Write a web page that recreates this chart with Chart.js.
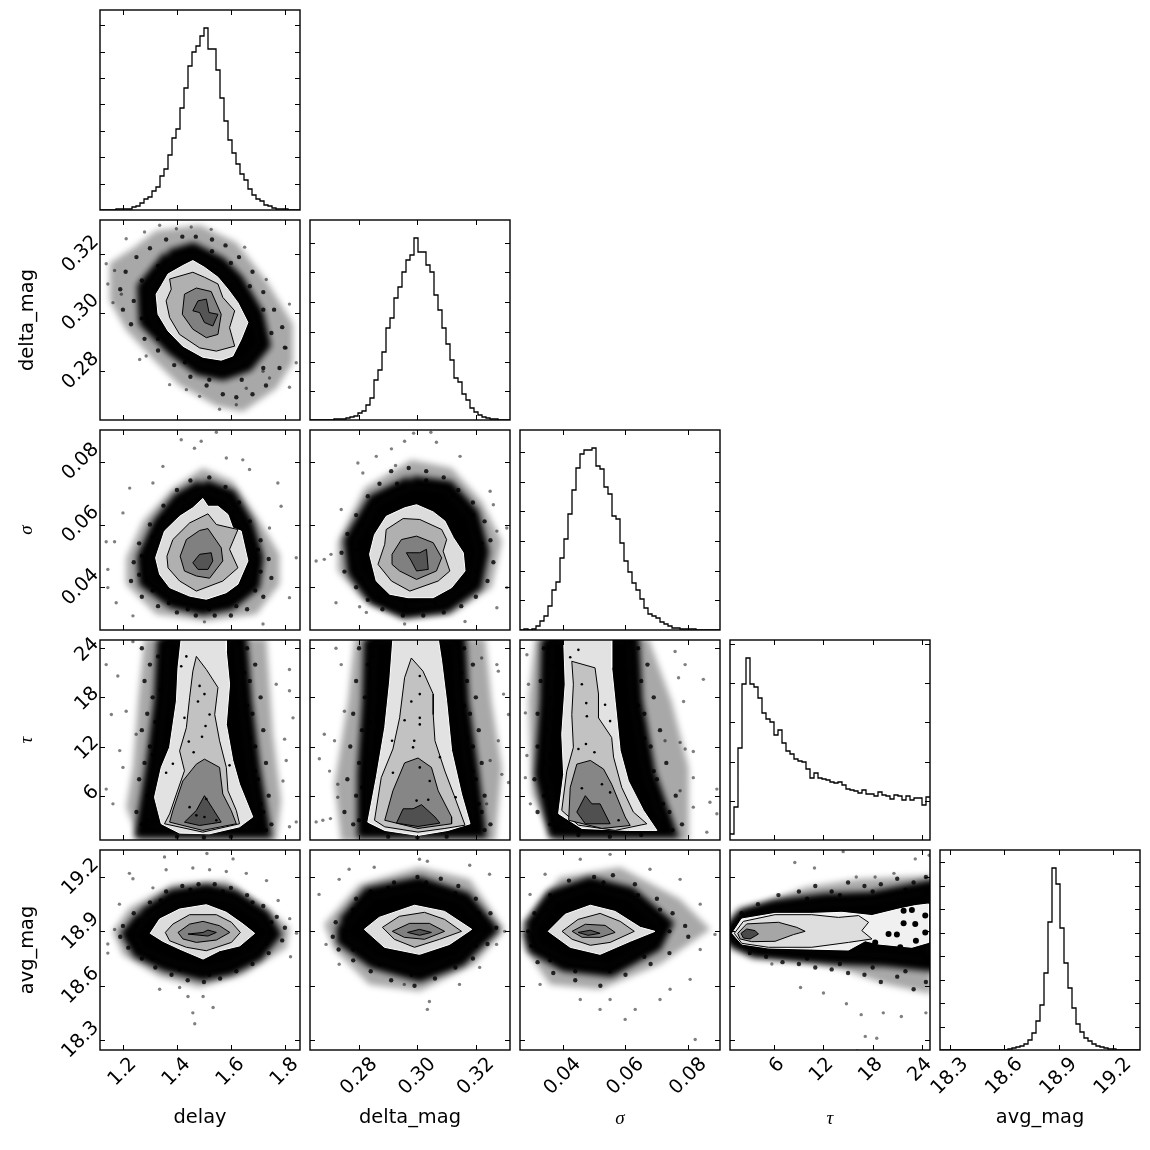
<!DOCTYPE html>
<html>
<head>
<meta charset="utf-8">
<script src="https://cdn.jsdelivr.net/npm/chart.js@4/dist/chart.umd.min.js"></script>
<style>
  html, body { margin: 0; background: #fff; }
  #page { position: relative; width: 1150px; height: 1150px; overflow: hidden; }
  canvas { position: absolute; }
</style>
</head>
<body>
<div id="page"></div>
<script>
// axis ranges and tick values
const delayRange = [1.115, 1.856], delayTicks = [1.2, 1.4, 1.6, 1.8];
const dmagRange = [0.2632, 0.3317], dmagTicks = [0.28, 0.30, 0.32];
const sigmaRange = [0.0264, 0.0901], sigmaTicks = [0.04, 0.06, 0.08];
const tauRange = [0.59, 25.0], tauTicks = [6, 12, 18, 24];
const magRange = [18.245, 19.349], magTicks = [18.3, 18.6, 18.9, 19.2];

// histograms, 50 bins each, heights relative to a 0-200 frame
const delayHist = [0,0,0,0,1,1,1,1,3,4,7,11,13,19,23,34,41,55,72,81,102,122,144,158,164,174,182,161,161,140,112,89,70,57,46,36,30,21,15,11,9,5,4,2,1,1,1,0,0,0];
const dmagHist = [0,0,0,0,0,0,1,1,1,2,3,4,7,9,15,22,40,50,68,92,102,122,133,148,160,165,182,168,168,155,148,125,110,92,76,60,42,38,26,20,12,8,5,3,2,1,1,0,0,0];
const sigmaHist = [0,1,0,1,4,9,14,24,40,48,72,91,116,140,162,176,180,180,182,164,161,143,136,114,111,87,69,58,47,40,31,22,16,14,12,8,6,4,2,2,1,1,1,1,0,0,0,0,0,0];
const tauHist = [6,33,92,156,182,156,153,142,127,121,118,105,110,97,89,86,81,79,78,71,62,67,62,61,60,58,57,58,55,51,50,49,47,50,46,46,44,48,45,44,41,45,44,40,44,40,42,42,35,43];
const magHist = [0,0,0,0,0,0,0,0,0,0,0,0,0,0,0,0,0,1,2,3,4,6,10,17,29,45,77,128,182,166,122,87,62,42,26,18,12,9,6,4,3,2,1,1,0,0,0,0,0,0];

const delayHistTicks = [26, 53, 79, 106, 132, 158, 185];
const dmagHistTicks = [29, 58, 88, 118, 148, 177];
const sigmaHistTicks = [30, 59, 89, 119, 148, 178];
const tauHistTicks = [39, 78, 118, 157, 196];
const magHistTicks = [23, 47, 70, 94, 117, 141, 164, 188];

// delay x delta_mag
const ddHaze = [[1.323,.328],[1.484,.33],[1.62,.324],[1.731,.311],[1.83,.296],[1.83,.283],[1.768,.274],[1.644,.266],[1.546,.268],[1.41,.275],[1.323,.283],[1.212,.294],[1.151,.304],[1.151,.317],[1.237,.322]];
const ddDense = [[1.373,.319],[1.459,.3213],[1.558,.3167],[1.62,.3109],[1.694,.2994],[1.719,.2891],[1.657,.2822],[1.57,.2793],[1.484,.281],[1.385,.2879],[1.286,.2971],[1.28,.3086]];
const ddLight = [[1.367,.3132],[1.422,.3161],[1.459,.3178],[1.502,.3155],[1.552,.3121],[1.589,.308],[1.626,.3034],[1.663,.2966],[1.638,.2908],[1.607,.2851],[1.564,.2837],[1.496,.2847],[1.422,.2885],[1.367,.2937],[1.33,.2994],[1.323,.3063],[1.342,.3092]];
const ddC1 = [[1.373,.3115],[1.459,.3138],[1.502,.3121],[1.552,.3098],[1.57,.3052],[1.614,.3006],[1.595,.2948],[1.614,.2885],[1.546,.2868],[1.484,.2879],[1.41,.2925],[1.373,.2983],[1.36,.304],[1.379,.308]];
const ddC2 = [[1.428,.3063],[1.472,.3084],[1.527,.3072],[1.564,.2994],[1.552,.2925],[1.509,.2914],[1.459,.2943],[1.42,.2994]];
const ddC3 = [[1.459,.3006],[1.478,.304],[1.509,.3046],[1.519,.3],[1.552,.2994],[1.533,.2954],[1.502,.2966],[1.484,.3]];
const ddCloud = [[1.30,.322],[1.36,.325],[1.42,.326],[1.47,.326],[1.53,.325],[1.58,.323],[1.63,.319],[1.68,.314],[1.72,.307],[1.76,.301],[1.79,.295],[1.80,.288],[1.78,.281],[1.73,.275],[1.68,.272],[1.62,.271],[1.57,.272],[1.51,.275],[1.45,.278],[1.39,.282],[1.33,.287],[1.28,.291],[1.23,.296],[1.20,.301],[1.19,.308],[1.21,.314],[1.25,.319],[1.33,.316],[1.27,.311],[1.24,.304],[1.27,.298],[1.33,.291],[1.43,.283],[1.52,.277],[1.64,.277],[1.72,.281],[1.75,.293],[1.72,.301],[1.67,.309],[1.6,.317],[1.53,.321]];
const ddPts = [[1.138,.3167],[1.144,.3098],[1.169,.3144],[1.212,.3253],[1.28,.3276],[1.336,.3299],[1.398,.3287],[1.453,.3293],[1.527,.3285],[1.651,.3224],[1.731,.3113],[1.817,.3029],[1.842,.2828],[1.817,.2744],[1.743,.2776],[1.62,.2684],[1.558,.2669],[1.373,.2753],[1.435,.2736],[1.262,.2839],[1.286,.2851],[1.163,.3034],[1.194,.3063],[1.805,.2879],[1.719,.2799],[1.657,.2741],[1.484,.2713]];

// delay x sigma
const dsHaze = [[1.496,.078],[1.607,.0738],[1.706,.0611],[1.78,.0505],[1.78,.041],[1.694,.0314],[1.509,.0293],[1.323,.0314],[1.212,.041],[1.212,.0494],[1.274,.0611],[1.385,.0716]];
const dsDense = [[1.496,.0722],[1.595,.069],[1.657,.06],[1.694,.0494],[1.681,.041],[1.595,.0351],[1.496,.0335],[1.385,.0357],[1.286,.042],[1.28,.0494],[1.336,.06],[1.41,.0679]];
const dsLight = [[1.496,.0683],[1.515,.0658],[1.552,.0658],[1.589,.0632],[1.607,.0589],[1.638,.0579],[1.663,.0484],[1.626,.041],[1.583,.0383],[1.509,.0362],[1.447,.0372],[1.373,.0399],[1.336,.0441],[1.321,.0494],[1.354,.0579],[1.41,.0626],[1.459,.0653]];
const dsC1 = [[1.515,.0634],[1.546,.06],[1.626,.0584],[1.595,.0521],[1.626,.0462],[1.57,.042],[1.472,.0388],[1.41,.042],[1.367,.0462],[1.363,.0499],[1.385,.0552],[1.447,.0605]];
const dsC2 = [[1.484,.0581],[1.515,.0587],[1.564,.0526],[1.57,.0484],[1.521,.0429],[1.472,.0436],[1.428,.0452],[1.412,.0499],[1.435,.0552]];
const dsC3 = [[1.459,.0478],[1.484,.0505],[1.527,.051],[1.533,.0484],[1.515,.0457],[1.478,.0457]];
const dsCloud = [[1.45,.074],[1.52,.075],[1.58,.072],[1.63,.067],[1.67,.061],[1.71,.055],[1.74,.049],[1.75,.043],[1.72,.037],[1.66,.033],[1.6,.031],[1.54,.031],[1.47,.031],[1.4,.032],[1.33,.034],[1.27,.037],[1.23,.042],[1.24,.048],[1.26,.054],[1.3,.06],[1.35,.066],[1.4,.071],[1.43,.068],[1.35,.062],[1.31,.056],[1.27,.05],[1.26,.044],[1.31,.039],[1.37,.035],[1.44,.033],[1.52,.033],[1.62,.034],[1.69,.039],[1.71,.045],[1.7,.052],[1.66,.058],[1.61,.064],[1.55,.07]];
const dsPts = [[1.49,.0865],[1.546,.0894],[1.416,.087],[1.465,.0843],[1.583,.0812],[1.644,.0806],[1.669,.0775],[1.774,.0732],[1.311,.0732],[1.348,.0785],[1.225,.0716],[1.2,.0637],[1.138,.0545],[1.169,.0545],[1.144,.0457],[1.144,.0399],[1.175,.0351],[1.237,.0309],[1.502,.029],[1.719,.0283],[1.842,.0494],[1.817,.0367],[1.786,.0658],[1.743,.0589]];

// delay x tau
const dtHaze = [[1.28,25.2],[1.731,25.2],[1.756,13.5],[1.786,5.4],[1.768,.4],[1.262,.4],[1.212,4.6],[1.237,9.45],[1.256,17.5]];
const dtDense = [[1.354,25.2],[1.632,25.2],[1.651,17.5],[1.681,9.45],[1.719,1.75],[1.274,1.75],[1.311,9.45],[1.342,17.5]];
const dtLight = [[1.416,25.2],[1.583,25.2],[1.583,23.6],[1.595,19.6],[1.583,14.7],[1.607,10.3],[1.632,7.4],[1.681,3.4],[1.632,2.2],[1.521,1.35],[1.41,1.43],[1.342,2.57],[1.317,5.8],[1.342,9.45],[1.373,11.9],[1.398,17.5],[1.404,21.6]];
const dtC1 = [[1.354,2.57],[1.373,3.78],[1.398,6.2],[1.428,9.04],[1.41,11.47],[1.435,14.3],[1.447,17.95],[1.459,21.2],[1.472,23],[1.509,21.4],[1.552,19.2],[1.54,15.9],[1.558,12.7],[1.583,9.45],[1.589,6.6],[1.62,4.2],[1.632,2.57],[1.496,1.55]];
const dtC2 = [[1.373,2.77],[1.385,4.2],[1.422,7.8],[1.472,9.85],[1.502,10.46],[1.558,9.45],[1.57,6.2],[1.601,4.2],[1.62,2.57],[1.496,1.76]];
const dtC3 = [[1.428,2.77],[1.472,4.2],[1.502,6],[1.533,4.4],[1.564,2.77],[1.484,2.36]];
const dtSpecks = [[1.435,23],[1.416,21.8],[1.484,19.4],[1.502,18.4],[1.478,17.5],[1.521,15.9],[1.428,15.5],[1.506,14.5],[1.444,12.6],[1.493,13.2],[1.462,11.3],[1.385,9.9],[1.36,8.8],[1.509,5.6],[1.447,4.6],[1.502,3.4],[1.546,3],[1.472,3.6],[1.626,14.7],[1.614,12.3],[1.595,9.7]];
const dtCloud = [[1.27,24],[1.3,22],[1.28,20],[1.31,18],[1.29,16],[1.27,14],[1.3,12],[1.28,10],[1.26,8],[1.29,6],[1.25,4],[1.27,2.5],[1.33,23],[1.34,19],[1.32,15],[1.31,11],[1.3,7],[1.29,3],[1.66,24],[1.69,22],[1.67,20],[1.71,18],[1.68,16],[1.72,14],[1.69,12],[1.73,10],[1.7,8],[1.74,6],[1.72,4],[1.75,2.5],[1.65,21],[1.66,17],[1.67,13],[1.69,9],[1.71,5],[1.73,1.8],[1.4,1],[1.5,.9],[1.6,1]];
const dtPts = [[1.138,22],[1.181,20.6],[1.157,15.9],[1.188,11.5],[1.138,6.8],[1.163,5],[1.237,24.8],[1.817,21.4],[1.817,18.8],[1.83,15.5],[1.799,12.9],[1.842,2.8],[1.817,2.2],[1.793,7.8],[1.805,10.3],[1.2,9.45],[1.212,16.3],[1.249,13.5],[1.768,19.6]];

// delay x avg_mag
const dmHaze = [[1.224,19.03],[1.385,19.16],[1.583,19.18],[1.732,19.03],[1.818,18.92],[1.806,18.81],[1.645,18.66],[1.484,18.59],[1.336,18.65],[1.2,18.77],[1.162,18.9]];
const dmDense = [[1.274,18.98],[1.385,19.09],[1.509,19.12],[1.608,19.09],[1.719,18.98],[1.756,18.885],[1.695,18.775],[1.596,18.7],[1.497,18.67],[1.36,18.72],[1.261,18.79],[1.224,18.885]];
const dmLight = [[1.301,18.889],[1.336,18.968],[1.41,19.023],[1.509,19.047],[1.583,19.005],[1.645,18.94],[1.688,18.889],[1.633,18.82],[1.558,18.793],[1.497,18.747],[1.41,18.802],[1.348,18.845]];
const dmC1 = [[1.357,18.894],[1.385,18.94],[1.447,18.992],[1.546,18.992],[1.602,18.95],[1.635,18.894],[1.602,18.839],[1.509,18.793],[1.435,18.812],[1.373,18.848]];
const dmC2 = [[1.404,18.894],[1.447,18.94],[1.497,18.955],[1.558,18.931],[1.596,18.894],[1.546,18.852],[1.472,18.839],[1.422,18.858]];
const dmC3 = [[1.441,18.885],[1.497,18.894],[1.515,18.907],[1.546,18.894],[1.515,18.874]];
const dmCloud = [[1.3,19.06],[1.36,19.12],[1.42,19.15],[1.48,19.16],[1.54,19.16],[1.6,19.14],[1.66,19.1],[1.72,19.04],[1.77,18.98],[1.8,18.92],[1.79,18.85],[1.74,18.78],[1.68,18.72],[1.62,18.68],[1.56,18.64],[1.5,18.62],[1.44,18.63],[1.38,18.66],[1.32,18.7],[1.27,18.75],[1.22,18.81],[1.19,18.87],[1.2,18.93],[1.24,19.0],[1.34,19.07],[1.45,19.13],[1.57,19.12],[1.68,19.06],[1.75,18.95],[1.73,18.83],[1.64,18.74],[1.52,18.66],[1.41,18.69],[1.31,18.75],[1.25,18.83],[1.25,18.93]];
const dmPts = [[1.354,19.31],[1.511,19.33],[1.36,19.24],[1.459,19.25],[1.521,19.24],[1.608,19.3],[1.224,19.22],[1.237,19.19],[1.311,19.14],[1.187,19.05],[1.144,18.78],[1.144,18.83],[1.169,18.91],[1.466,18.39],[1.459,18.45],[1.497,18.54],[1.534,18.48],[1.441,18.54],[1.41,18.59],[1.336,18.58],[1.843,18.89],[1.818,18.97],[1.821,18.76],[1.775,19.07],[1.732,19.18],[1.657,19.22],[1.583,19.23]];

// delta_mag x sigma
const msHaze = [[.2979,.0806],[.3117,.078],[.322,.0674],[.3289,.0547],[.3254,.0399],[.3117,.0314],[.2956,.0304],[.2807,.0367],[.2727,.0452],[.2727,.0547],[.2819,.0716]];
const msDense = [[.2979,.0732],[.3105,.0716],[.3186,.0632],[.322,.0515],[.3197,.041],[.3094,.0341],[.2956,.0325],[.2853,.0367],[.2785,.0452],[.2773,.0547],[.2853,.0674]];
const msLight = [[.2893,.0626],[.2956,.0653],[.2997,.0663],[.3054,.064],[.3094,.0611],[.3123,.0558],[.3157,.051],[.3163,.0452],[.3117,.0399],[.3054,.0367],[.2968,.0367],[.2905,.0378],[.2859,.042],[.2836,.0505],[.2853,.0568]];
const msC1 = [[.2893,.0584],[.2951,.0619],[.3008,.0616],[.3083,.0584],[.31,.0552],[.3088,.0515],[.3111,.0452],[.3071,.042],[.2974,.0388],[.2911,.042],[.2865,.0473],[.2888,.0537]];
const msC2 = [[.2913,.0505],[.2945,.0552],[.2997,.0563],[.3054,.0542],[.3083,.0494],[.3065,.0452],[.2997,.0425],[.2939,.0452],[.2913,.0473]];
const msC3 = [[.2962,.051],[.3008,.051],[.3031,.0521],[.3037,.0457],[.2997,.0452],[.2979,.0484]];
const msCloud = [[.291,.077],[.297,.078],[.303,.077],[.309,.075],[.314,.071],[.319,.067],[.323,.061],[.325,.055],[.326,.048],[.324,.042],[.32,.037],[.315,.034],[.309,.032],[.302,.031],[.295,.031],[.288,.033],[.283,.036],[.279,.04],[.275,.045],[.274,.051],[.276,.057],[.279,.063],[.283,.069],[.287,.073],[.293,.073],[.286,.067],[.281,.06],[.279,.052],[.281,.043],[.287,.037],[.296,.034],[.306,.035],[.315,.038],[.32,.045],[.322,.054],[.319,.063],[.312,.069],[.303,.074]];
const msPts = [[.3046,.0894],[.2987,.0891],[.3065,.0862],[.2956,.0865],[.2911,.0841],[.2859,.0817],[.2925,.0788],[.3146,.0817],[.2796,.0796],[.2813,.0764],[.3249,.0706],[.2653,.0484],[.2681,.0489],[.2704,.0505],[.2739,.0648],[.2721,.0351],[.2802,.0338],[.2825,.032],[.2956,.0283],[.3163,.0291],[.3306,.0589],[.3306,.0399],[.326,.0663],[.3272,.0579],[.3272,.0335]];

// delta_mag x tau
const mtHaze = [[.2785,25.2],[.3232,25.2],[.3254,17.5],[.3289,9.45],[.3266,.4],[.2739,.4],[.2716,7.4],[.2762,17.5]];
const mtDense = [[.2842,25.2],[.314,25.2],[.3151,17.5],[.3186,8.64],[.3209,1.76],[.2819,1.76],[.2819,8.64],[.2836,17.5]];
const mtLight = [[.2916,25.2],[.3071,25.2],[.3083,22.4],[.31,17.5],[.3117,11.5],[.3151,6.2],[.318,2.57],[.3105,1.76],[.3002,1.15],[.2888,1.76],[.283,2.77],[.2859,8.2],[.2888,14.3],[.2905,20]];
const mtC1 = [[.2979,22.8],[.3019,21.2],[.3054,18.4],[.3054,15.9],[.306,12.7],[.3094,9],[.3128,5.8],[.3163,2.4],[.3094,2],[.3002,1.55],[.2888,2.2],[.2853,3],[.2876,8.2],[.2916,11.7],[.2939,15.5],[.2956,20.4]];
const mtC2 = [[.2888,3],[.2916,6.6],[.2956,10],[.3002,10.6],[.3048,9.45],[.3071,6.6],[.3117,3.4],[.3117,2.57],[.3002,2]];
const mtC3 = [[.2928,2.65],[.2951,4.4],[.2985,4.4],[.3014,4.9],[.306,3.4],[.3077,2.65],[.3002,2.24]];
const mtSpecks = [[.3008,20.6],[.3008,18.4],[.2979,17.5],[.3008,15.5],[.3008,14.7],[.2956,15.2],[.2913,12.7],[.2989,12.7],[.2985,11.9],[.3077,10.7],[.3042,7.8],[.3008,9.45],[.2916,8.8],[.3131,5.8],[.2997,5.4],[.3037,5.5]];
const mtCloud = [[.28,24],[.283,22],[.279,20],[.282,18],[.278,16],[.281,14],[.277,12],[.28,10],[.276,8],[.279,6],[.275,4],[.278,2.5],[.285,23],[.286,19],[.284,15],[.283,11],[.281,7],[.28,3],[.316,24],[.319,22],[.317,20],[.32,18],[.318,16],[.321,14],[.319,12],[.322,10],[.32,8],[.323,6],[.322,4],[.325,2.5],[.315,21],[.316,17],[.317,13],[.319,9],[.321,5],[.323,1.8],[.29,1],[.3,.9],[.31,1]];
const mtPts = [[.2721,24],[.2739,22],[.2699,9],[.2664,10.5],[.2681,13.5],[.2716,12.7],[.275,16.3],[.2653,2.8],[.2676,3],[.2702,3.2],[.2727,7.4],[.3289,8.6],[.3277,12.7],[.3277,21.2],[.3272,22],[.3295,18.4],[.322,22.8],[.3237,5],[.3312,7.6],[.2727,5.8],[.3312,15.9],[.3249,10.3]];

// delta_mag x avg_mag
const mmHaze = [[.268,18.939],[.2801,19.16],[.3007,19.254],[.3179,19.187],[.3299,18.911],[.3196,18.718],[.3007,18.569],[.2835,18.607],[.2715,18.8]];
const mmDense = [[.2749,18.939],[.2835,19.104],[.3007,19.16],[.3162,19.077],[.3247,18.911],[.3144,18.745],[.3007,18.662],[.2852,18.734],[.2749,18.856]];
const mmLight = [[.2818,18.911],[.2869,18.977],[.299,19.044],[.3093,19.01],[.3186,18.911],[.311,18.828],[.3007,18.773],[.2887,18.812]];
const mmC1 = [[.288,18.922],[.2938,18.983],[.3024,19.005],[.3093,18.966],[.3151,18.9],[.3076,18.856],[.299,18.812],[.2921,18.856]];
const mmC2 = [[.2914,18.9],[.2973,18.944],[.3041,18.944],[.3093,18.9],[.3024,18.856],[.2955,18.867]];
const mmC3 = [[.2966,18.894],[.3007,18.911],[.3048,18.894],[.3007,18.878]];
const mmCloud = [[.278,19.02],[.284,19.12],[.292,19.17],[.3,19.2],[.308,19.19],[.314,19.15],[.32,19.08],[.325,19],[.327,18.92],[.324,18.83],[.319,18.75],[.313,18.7],[.306,18.64],[.299,18.6],[.291,18.63],[.284,18.68],[.278,18.74],[.273,18.8],[.271,18.87],[.272,18.95],[.279,19.08],[.29,19.14],[.303,19.17],[.313,19.11],[.321,19],[.32,18.82],[.311,18.74],[.298,18.66],[.287,18.72],[.278,18.8],[.276,18.9]];
const mmPts = [[.2663,19.104],[.2732,19.187],[.2852,19.254],[.3007,19.298],[.3034,19.287],[.3179,19.265],[.3247,19.215],[.3271,18.828],[.3299,18.9],[.2687,18.828],[.2955,18.607],[.3041,18.513],[.3034,18.469],[.2732,18.718],[.3144,18.607],[.3213,18.701],[.2766,19.243]];

// sigma x tau
const stHaze = [[.0312,25.2],[.0673,25.2],[.0747,17.5],[.0801,9.45],[.0801,.4],[.0376,.4],[.0302,6.2],[.0291,17.5]];
const stDense = [[.0355,25.2],[.062,25.2],[.0631,17.5],[.0673,8.6],[.0737,1.76],[.0376,1.76],[.0334,8.6],[.035,17.5]];
const stLight = [[.0403,25.2],[.0556,25.2],[.0556,21.6],[.0567,17.5],[.0583,11.5],[.0609,7.8],[.0657,4.2],[.07,1.76],[.0609,1.76],[.0461,2],[.0387,3.8],[.0403,8.6],[.0397,13.5],[.0408,19.6]];
const stC1 = [[.0429,22.4],[.0503,21.6],[.0514,18.4],[.0514,15.5],[.0556,13.1],[.0562,10.7],[.0588,7],[.0625,4],[.0668,2.57],[.0567,1.76],[.045,2.4],[.0397,4.2],[.0413,9],[.0434,11.9],[.0429,15.9],[.0434,19.6]];
const stC2 = [[.0419,3],[.0424,7],[.0445,9.85],[.0488,10.3],[.053,9.25],[.0556,7.4],[.0599,3.4],[.0615,2.36],[.0525,2]];
const stC3 = [[.0445,4],[.0472,6],[.0493,5],[.0519,5],[.0551,2.57],[.0472,2.57]];
const stSpecks = [[.045,23.8],[.0424,22.9],[.0461,19.6],[.0477,15.7],[.0475,17.3],[.0535,17.1],[.0551,15.1],[.0474,12.3],[.045,11.7],[.0501,11.3],[.0461,6.9],[.0551,6.4],[.0578,3],[.0525,7.4]];
const stCloud = [[.034,24],[.037,22],[.033,20],[.036,18],[.032,16],[.035,14],[.032,12],[.034,10],[.031,8],[.034,6],[.032,4],[.036,2.5],[.039,23],[.039,19],[.037,15],[.036,11],[.035,7],[.037,3],[.064,24],[.067,22],[.065,20],[.069,18],[.066,16],[.071,14],[.068,12],[.073,10],[.07,8],[.076,6],[.074,4],[.078,2.5],[.062,21],[.064,17],[.066,13],[.069,9],[.072,5],[.075,1.8],[.045,1.2],[.055,1],[.065,1.2]];
const stPts = [[.0286,23.2],[.0291,19.6],[.0281,16.1],[.0286,10.9],[.0281,8.2],[.0297,5],[.0758,23.6],[.0769,20.4],[.0848,20.2],[.0785,17.5],[.0774,12.5],[.0816,11.4],[.079,11.7],[.0891,6.8],[.0869,5.2],[.0891,3.8],[.0859,1.55],[.0816,8.2],[.0774,6.6],[.0816,4.6],[.079,22],[.0726,12.7]];

// sigma x avg_mag
const smHaze = [[.0271,18.939],[.0392,19.198],[.0583,19.254],[.0774,19.077],[.087,18.911],[.071,18.718],[.0519,18.58],[.036,18.607],[.0281,18.8]];
const smDense = [[.0296,18.911],[.0367,19.088],[.0488,19.16],[.0615,19.104],[.0726,18.939],[.0694,18.828],[.0551,18.69],[.0408,18.718],[.0312,18.812]];
const smLight = [[.0354,18.9],[.0408,18.994],[.0488,19.044],[.0567,19.01],[.0647,18.922],[.0694,18.9],[.0615,18.845],[.0519,18.773],[.0424,18.812]];
const smC1 = [[.0398,18.9],[.0449,18.966],[.0519,18.999],[.0583,18.955],[.0628,18.9],[.0551,18.839],[.0488,18.823],[.043,18.856]];
const smC2 = [[.043,18.9],[.0472,18.939],[.0535,18.933],[.0567,18.894],[.0519,18.867],[.0462,18.867]];
const smC3 = [[.0449,18.894],[.0488,18.906],[.0519,18.889],[.0481,18.878]];
const smCloud = [[.031,19],[.036,19.1],[.042,19.18],[.05,19.2],[.056,19.21],[.063,19.16],[.07,19.08],[.075,19],[.079,18.93],[.08,18.87],[.074,18.78],[.068,18.72],[.06,18.66],[.052,18.6],[.044,18.63],[.037,18.67],[.032,18.73],[.03,18.82],[.029,18.9],[.035,19.02],[.043,19.13],[.053,19.17],[.064,19.1],[.071,19.02],[.074,18.9],[.066,18.76],[.055,18.68],[.044,18.68],[.036,18.74]];
const smPts = [[.0296,19.104],[.0344,19.215],[.0456,19.298],[.0551,19.325],[.0678,19.243],[.0774,19.187],[.0838,19.05],[.0838,18.8],[.0885,18.883],[.0456,18.524],[.0519,18.469],[.0551,18.524],[.0328,18.607],[.0806,18.635],[.0822,18.303],[.071,18.524],[.0631,18.469],[.0742,18.58],[.0599,18.414]];

// tau x avg_mag
const tmHaze = [[.4,18.889],[2.43,19.005],[6.09,19.079],[9.76,19.143],[16.28,19.189],[25.2,19.208],[25.2,18.554],[19.54,18.609],[14.24,18.692],[8.13,18.747],[3.65,18.802],[1.2,18.858]];
const tmDense = [[.4,18.889],[2.22,18.987],[6.09,19.033],[12.2,19.069],[17.9,19.079],[25.2,19.143],[25.2,18.72],[19.54,18.747],[14.24,18.756],[8.13,18.778],[3.65,18.793],[1.41,18.839]];
const tmLight = [[.88,18.889],[2.02,18.968],[6.09,18.999],[10.57,18.999],[14.24,19.005],[17.91,18.987],[21.17,19.023],[23.2,19.042],[24.83,19.051],[24.83,18.839],[22.79,18.812],[18.72,18.83],[17.09,18.848],[15.05,18.797],[10.57,18.802],[5.28,18.808],[2.02,18.83]];
const tmC1 = [[1.12,18.889],[2.22,18.955],[6.09,18.992],[10.57,18.992],[13.83,18.977],[16.28,18.987],[17.5,18.95],[16.68,18.904],[17.91,18.858],[15.05,18.839],[10.57,18.812],[5.28,18.812],[2.02,18.834]];
const tmC2 = [[1.53,18.889],[2.63,18.941],[6.5,18.95],[8.74,18.922],[9.76,18.9],[8.33,18.882],[6.09,18.845],[3.24,18.843],[1.82,18.858]];
const tmC3 = [[1.94,18.889],[2.63,18.913],[3.65,18.904],[4.06,18.885],[3.04,18.858],[2.22,18.863]];
const tmBlobs = [[21.78,19.014],[22.79,19.018],[21.78,18.944],[23.2,18.94],[24.42,18.987],[24.42,18.894],[23.28,18.848],[20.96,18.882],[19.94,18.885],[18.31,18.839],[21.37,18.812]];
const tmCloud = [[2,19],[4,19.05],[6.5,19.1],[9,19.12],[11,19.15],[13,19.12],[15,19.17],[17,19.15],[19,19.16],[21,19.19],[23,19.17],[24.5,19.2],[3,18.78],[5,18.76],[7,18.73],[9,18.72],[11,18.7],[13,18.69],[15,18.67],[17,18.66],[19,18.62],[21,18.65],[23,18.58],[24.5,18.62],[10,19.08],[14,19.1],[18,19.12],[22,19.13],[10,18.75],[14,18.72],[18,18.7],[22,18.68]];
const tmPts = [[8.5,19.28],[10.9,19.25],[14.4,19.34],[16,19.2],[18.3,19.2],[20.6,19.22],[23.2,19.3],[24.9,19.32],[24.5,18.45],[21.5,18.43],[19.3,18.45],[16.6,18.44],[16.2,18.21],[16.1,18.24],[17.1,18.32],[18.5,18.31],[14.8,18.5],[12,18.56],[9.2,18.59],[5.7,18.72]];

const names = ['delay', 'delta_mag', '\u03c3', '\u03c4', 'avg_mag'];
const ranges = [delayRange, dmagRange, sigmaRange, tauRange, magRange];
const ticks = [delayTicks, dmagTicks, sigmaTicks, tauTicks, magTicks];
const digits = [1, 2, 2, 0, 1];
const labelShift = [10.5, 15.3, 15.3, 7, 15.3];
const hists = [delayHist, dmagHist, sigmaHist, tauHist, magHist];
const histTicks = [delayHistTicks, dmagHistTicks, sigmaHistTicks, tauHistTicks, magHistTicks];

const grays = [
  ['#dcdcdc', '#b0b0b0', '#808080', '#555555'],
  ['#e2e2e2', '#c2c2c2', '#868686', '#505050'],
  ['#f0f0f0', '#dedede', '#a6a6a6', '#4a4a4a']
];

// row, col, layers: haze, dense, light, contour 1-3, specks, cloud, scattered points
const panels = [
  { row: 1, col: 0, g: 0, poly: [ddHaze, ddDense, ddLight, ddC1, ddC2, ddC3], cloud: ddCloud, pts: ddPts },
  { row: 2, col: 0, g: 0, poly: [dsHaze, dsDense, dsLight, dsC1, dsC2, dsC3], cloud: dsCloud, pts: dsPts },
  { row: 3, col: 0, g: 1, poly: [dtHaze, dtDense, dtLight, dtC1, dtC2, dtC3], cloud: dtCloud, pts: dtPts, specks: dtSpecks },
  { row: 4, col: 0, g: 0, poly: [dmHaze, dmDense, dmLight, dmC1, dmC2, dmC3], cloud: dmCloud, pts: dmPts },
  { row: 2, col: 1, g: 0, poly: [msHaze, msDense, msLight, msC1, msC2, msC3], cloud: msCloud, pts: msPts },
  { row: 3, col: 1, g: 1, poly: [mtHaze, mtDense, mtLight, mtC1, mtC2, mtC3], cloud: mtCloud, pts: mtPts, specks: mtSpecks },
  { row: 4, col: 1, g: 0, poly: [mmHaze, mmDense, mmLight, mmC1, mmC2, mmC3], cloud: mmCloud, pts: mmPts },
  { row: 3, col: 2, g: 1, poly: [stHaze, stDense, stLight, stC1, stC2, stC3], cloud: stCloud, pts: stPts, specks: stSpecks },
  { row: 4, col: 2, g: 0, poly: [smHaze, smDense, smLight, smC1, smC2, smC3], cloud: smCloud, pts: smPts },
  { row: 4, col: 3, g: 2, poly: [tmHaze, tmDense, tmLight, tmC1, tmC2, tmC3], cloud: tmCloud, pts: tmPts, blobs: tmBlobs }
];

const BOX = 200, STEP = 210, LEFT = 100, TOP = 10, MARGIN = 100, EDGE = 5;
const tickFont = { family: 'DejaVu Sans', size: 19.4 };
const page = document.getElementById('page');

const toXY = (arr) => arr.map(([x, y]) => ({ x, y }));
const closed = (arr) => toXY(arr.concat([arr[0]]));

// inward ticks on all four sides and the frame, matplotlib style
const framePlugin = {
  id: 'frame',
  afterDatasetsDraw(chart) {
    const { ctx, chartArea: a, scales } = chart;
    ctx.save();
    ctx.strokeStyle = '#000';
    ctx.lineWidth = 1;
    ctx.beginPath();
    scales.x.ticks.forEach((t) => {
      const p = Math.round(scales.x.getPixelForValue(t.value)) + 0.5;
      ctx.moveTo(p, a.top); ctx.lineTo(p, a.top + 5);
      ctx.moveTo(p, a.bottom); ctx.lineTo(p, a.bottom - 5);
    });
    scales.y.ticks.forEach((t) => {
      const p = Math.round(scales.y.getPixelForValue(t.value)) + 0.5;
      ctx.moveTo(a.left, p); ctx.lineTo(a.left + 5, p);
      ctx.moveTo(a.right, p); ctx.lineTo(a.right - 5, p);
    });
    ctx.stroke();
    ctx.lineWidth = 1.4;
    ctx.strokeRect(a.left, a.top, a.right - a.left, a.bottom - a.top);
    ctx.restore();
  }
};

// the dense scatter is drawn as two soft shapes, so it has no hard edge
const softPlugin = {
  id: 'soft',
  beforeDatasetsDraw(chart) {
    if (chart.options.plugins.soft.on) chart.ctx.filter = 'blur(3px)';
  },
  afterDatasetDraw(chart, args) {
    if (args.index === 1) chart.ctx.filter = 'none';
  }
};

function polygon(arr, fill, line, width) {
  return {
    data: closed(arr), showLine: true, fill: 'shape', backgroundColor: fill,
    borderColor: line || 'transparent', borderWidth: line ? (width || 1) : 0,
    pointRadius: 0, tension: 0
  };
}

function dots(arr, radius, color) {
  return { data: toXY(arr), showLine: false, pointRadius: radius, pointBackgroundColor: color, pointBorderWidth: 0 };
}

function axisOptions(v, isX, list, showLabels, showTitle) {
  const italic = v === 2 || v === 3;
  return {
    type: 'linear',
    min: ranges[v][0],
    max: ranges[v][1],
    grid: { display: false, drawTicks: false },
    border: { display: false },
    afterBuildTicks: (s) => { s.ticks = (list || ticks[v]).map((value) => ({ value })); },
    afterFit: (s) => {
      if (isX) s.height = MARGIN; else s.width = MARGIN;
      s.paddingTop = s.paddingBottom = s.paddingLeft = s.paddingRight = 0;
    },
    ticks: {
      display: showLabels,
      autoSkip: false,
      minRotation: 45,
      maxRotation: 45,
      padding: isX ? 3 : 4,
      color: '#000',
      font: tickFont,
      labelOffset: isX ? labelShift[v] : -labelShift[v],
      callback: (val) => Number(val).toFixed(digits[v])
    },
    title: {
      display: showTitle,
      text: names[v],
      color: '#000',
      font: italic ? { family: 'Liberation Serif', size: 19, style: 'italic' } : { family: 'DejaVu Sans', size: 19.4 },
      padding: isX ? { top: 0, bottom: 20 } : { top: 16, bottom: 0 }
    }
  };
}

function addChart(row, col, datasets, scales, soft) {
  const canvas = document.createElement('canvas');
  canvas.width = BOX + MARGIN + EDGE;
  canvas.height = BOX + MARGIN + EDGE;
  canvas.style.left = (LEFT + col * STEP - MARGIN) + 'px';
  canvas.style.top = (TOP + row * STEP - EDGE) + 'px';
  page.appendChild(canvas);
  datasets.forEach((d, i) => { d.order = datasets.length - i; });
  new Chart(canvas, {
    type: 'scatter',
    data: { datasets },
    options: {
      responsive: false,
      animation: false,
      devicePixelRatio: 1,
      layout: { padding: { top: EDGE, right: EDGE, left: 0, bottom: 0 } },
      plugins: { legend: { display: false }, tooltip: { enabled: false }, soft: { on: soft } },
      scales
    },
    plugins: [softPlugin, framePlugin]
  });
}

// diagonal histograms
hists.forEach((h, i) => {
  const [lo, hi] = ranges[i];
  const w = (hi - lo) / h.length;
  const line = h.map((v, b) => ({ x: lo + (b + 0.5) * w, y: v }));
  line.unshift({ x: lo, y: h[0] });
  line.push({ x: hi, y: h[h.length - 1] });
  addChart(i, i, [{
    data: line, showLine: true, stepped: 'middle', borderColor: '#000', borderWidth: 1.3, pointRadius: 0, fill: false
  }], {
    x: axisOptions(i, true, null, i === 4, i === 4),
    y: Object.assign(axisOptions(i, false, histTicks[i], false, false), { min: 0, max: 200 })
  }, false);
});

// pair panels
panels.forEach((p) => {
  const g = grays[p.g];
  const sets = [
    polygon(p.poly[0], 'rgba(0,0,0,0.34)'),
    polygon(p.poly[1], '#000', '#000', 15),
    dots(p.cloud, 2.2, 'rgba(0,0,0,0.8)'),
    polygon(p.poly[2], g[0], '#fff'),
    polygon(p.poly[3], g[1], '#000'),
    polygon(p.poly[4], g[2], '#000'),
    polygon(p.poly[5], g[3], '#000')
  ];
  if (p.specks) sets.push(dots(p.specks, 1.3, '#000'));
  if (p.blobs) sets.push(dots(p.blobs, 3, '#000'));
  sets.push(dots(p.pts, 1.7, 'rgba(0,0,0,0.5)'));
  addChart(p.row, p.col, sets, {
    x: axisOptions(p.col, true, null, p.row === 4, p.row === 4),
    y: axisOptions(p.row, false, null, p.col === 0, p.col === 0)
  }, true);
});
</script>
</body>
</html>
